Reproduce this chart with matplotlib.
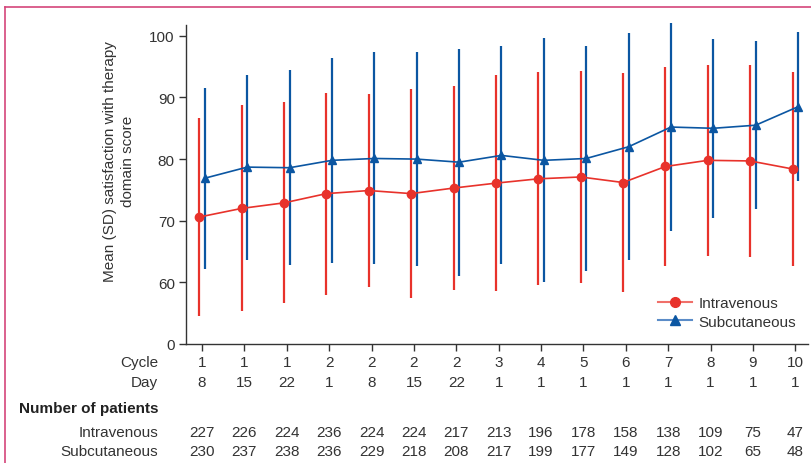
import numpy as np
import matplotlib
matplotlib.use('Agg')
import matplotlib.pyplot as plt
from matplotlib.lines import Line2D
from matplotlib.transforms import blended_transform_factory

plt.rcParams['font.family'] = ['Liberation Sans', 'DejaVu Sans']
plt.rcParams['font.size'] = 10

cycles = ['1', '1', '1', '2', '2', '2', '2', '3', '4', '5', '6', '7', '8', '9', '10']
days = ['8', '15', '22', '1', '8', '15', '22', '1', '1', '1', '1', '1', '1', '1', '1']
n_iv = [227, 226, 224, 236, 224, 224, 217, 213, 196, 178, 158, 138, 109, 75, 47]
n_sc = [230, 237, 238, 236, 229, 218, 208, 217, 199, 177, 149, 128, 102, 65, 48]

iv_mean = [70.6, 72.0, 72.9, 74.4, 74.9, 74.4, 75.3, 76.1, 76.8, 77.1, 76.2, 78.8, 79.8, 79.7, 78.4]
iv_sd = [16.0, 16.7, 16.3, 16.4, 15.7, 17.0, 16.5, 17.5, 17.3, 17.2, 17.8, 16.2, 15.5, 15.6, 15.8]
sc_mean = [76.9, 78.7, 78.6, 79.8, 80.1, 80.0, 79.5, 80.6, 79.8, 80.1, 82.0, 85.2, 85.0, 85.5, 88.5]
sc_sd = [14.7, 15.0, 15.8, 16.6, 17.2, 17.4, 18.4, 17.7, 19.8, 18.2, 18.4, 16.9, 14.5, 13.6, 12.1]

red = '#e8322b'
blue = '#0b56a2'
grey = '#333333'
fs = 11

fig = plt.figure(figsize=(8.11, 4.64), dpi=100)
ax = fig.add_axes([0.2293, 0.2565, 0.7670, 0.6880])

x = np.arange(len(cycles))
off = 0.065
ax.errorbar(x - off, iv_mean, yerr=iv_sd, color=red, fmt='-o', markersize=6,
            linewidth=1.2, elinewidth=1.6, capsize=0,
            clip_on=False, zorder=3)
ax.errorbar(x + off, sc_mean, yerr=sc_sd, color=blue, fmt='-^', markersize=6,
            linewidth=1.2, elinewidth=1.6, capsize=0,
            clip_on=False, zorder=3)

ax.set_xlim(-0.38, 14.3)
ax.set_ylim(50, 101.8)
ax.set_yticks([50, 60, 70, 80, 90, 100])
ax.set_yticklabels(['0', '60', '70', '80', '90', '100'])
ax.set_xticks(x)
ax.set_xticklabels([])
for s in ['top', 'right']:
    ax.spines[s].set_visible(False)
for s in ['left', 'bottom']:
    ax.spines[s].set_color(grey)
    ax.spines[s].set_linewidth(1.0)
ax.tick_params(colors=grey, length=5, width=1.0, labelsize=fs, pad=3)
ax.set_ylabel('Mean (SD) satisfaction with therapy\ndomain score', fontsize=fs,
              color=grey, linespacing=1.4)
ax.yaxis.set_label_coords(-0.082, 0.575)

handles = [Line2D([], [], color='#f0706a', marker='o', markersize=7,
                  markerfacecolor=red, markeredgecolor=red, linewidth=1.5),
           Line2D([], [], color='#5b8cc8', marker='^', markersize=7,
                  markerfacecolor=blue, markeredgecolor=blue, linewidth=1.5)]
leg = ax.legend(handles, ['Intravenous', 'Subcutaneous'], loc='lower right',
                bbox_to_anchor=(1.005, 0.0), frameon=False, fontsize=fs,
                handlelength=2.2, handletextpad=0.4, labelspacing=0.3,
                borderaxespad=0.6)
for t in leg.get_texts():
    t.set_color(grey)

# table below the axis
tr = blended_transform_factory(ax.transData, fig.transFigure)
label_x = 158 / 811
rows = [(363, 'Cycle', cycles), (383, 'Day', days),
        (433, 'Intravenous', n_iv), (452, 'Subcutaneous', n_sc)]
for ypix, name, vals in rows:
    yf = 1 - ypix / 464
    fig.text(label_x, yf, name, ha='right', va='center', fontsize=fs, color=grey)
    for xi, v in zip(x, vals):
        ax.text(xi, yf, str(v), transform=tr, ha='center', va='center',
                fontsize=fs, color=grey, clip_on=False)
fig.text(19 / 811, 1 - 409 / 464, 'Number of patients', ha='left', va='center',
         fontsize=fs, fontweight='bold', color='#222222')

# frame lines
pink = '#d4467a'
fig.add_artist(Line2D([5 / 811, 1.0], [1 - 8 / 464, 1 - 8 / 464], color=pink,
                      linewidth=1.2, transform=fig.transFigure))
fig.add_artist(Line2D([5 / 811, 5 / 811], [0, 1 - 8 / 464], color=pink,
                      linewidth=1.2, transform=fig.transFigure))

fig.savefig('out.png', dpi=100)
